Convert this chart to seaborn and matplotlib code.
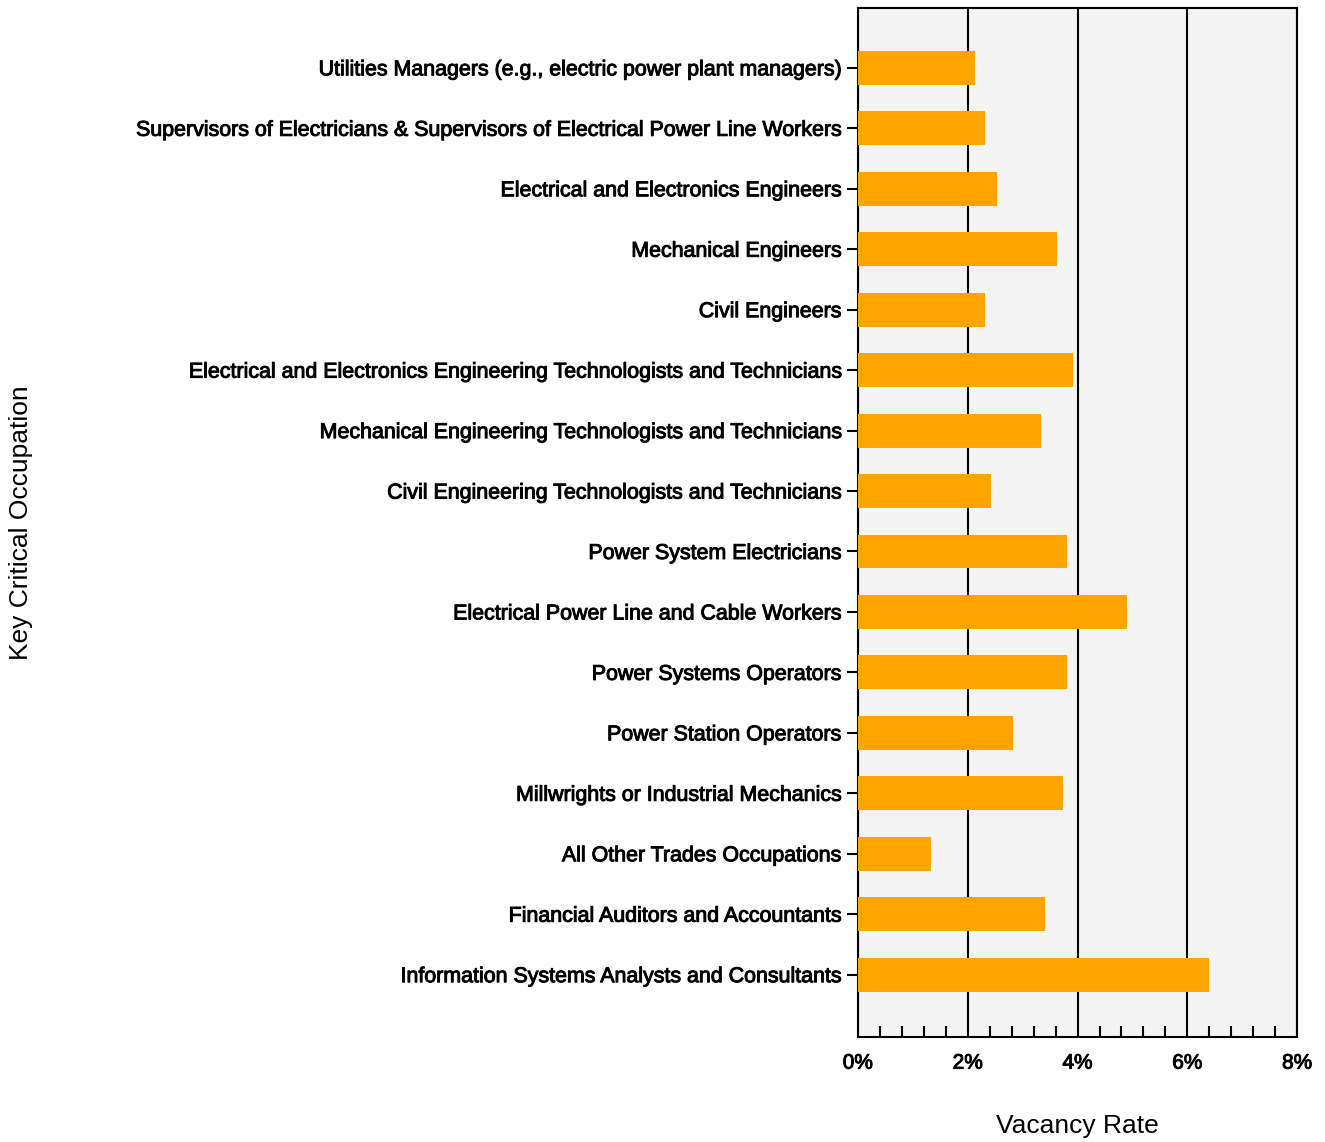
import matplotlib
matplotlib.use("Agg")
import matplotlib.pyplot as plt
import matplotlib.ticker as mticker
import matplotlib.patheffects as pe
import seaborn as sns
import pandas as pd

occupations = [
    "Utilities Managers (e.g., electric power plant managers)",
    "Supervisors of Electricians & Supervisors of Electrical Power Line Workers",
    "Electrical and Electronics Engineers",
    "Mechanical Engineers",
    "Civil Engineers",
    "Electrical and Electronics Engineering Technologists and Technicians",
    "Mechanical Engineering Technologists and Technicians",
    "Civil Engineering Technologists and Technicians",
    "Power System Electricians",
    "Electrical Power Line and Cable Workers",
    "Power Systems Operators",
    "Power Station Operators",
    "Millwrights or Industrial Mechanics",
    "All Other Trades Occupations",
    "Financial Auditors and Accountants",
    "Information Systems Analysts and Consultants",
]
vacancy = [2.13, 2.31, 2.53, 3.62, 2.31, 3.92, 3.33, 2.42,
           3.81, 4.90, 3.81, 2.82, 3.73, 1.33, 3.41, 6.39]

df = pd.DataFrame({"Occupation": occupations, "Vacancy": vacancy})

sns.set_style("white")
plt.rcParams['font.family'] = ['Liberation Sans', 'DejaVu Sans']
plt.rcParams['text.color'] = 'black'
plt.rcParams['axes.labelcolor'] = 'black'
plt.rcParams['xtick.color'] = 'black'
plt.rcParams['ytick.color'] = 'black'

fig = plt.figure(figsize=(13.25, 11.42), dpi=100)
ax = fig.add_axes([0.6475, 0.092, 0.979 - 0.6475, 0.993 - 0.092])
ax.set_facecolor("#f4f4f4")

sns.barplot(data=df, x="Vacancy", y="Occupation", color="#FFA500",
            saturation=1, width=0.56, linewidth=0, ax=ax, zorder=3)

ax.set_xlim(0, 8)
ax.set_ylim(16.03, -0.99)
ax.xaxis.set_major_locator(mticker.MultipleLocator(2))
ax.xaxis.set_minor_locator(mticker.MultipleLocator(0.4))
ax.xaxis.set_major_formatter(mticker.FuncFormatter(lambda v, p: f"{v:.0f}%"))
ax.grid(axis="x", which="major", color="black", linewidth=1.5, zorder=1)
ax.set_axisbelow(True)

for s in ax.spines.values():
    s.set_visible(True)
    s.set_color("black")
    s.set_linewidth(1.5)

ax.tick_params(axis="x", which="major", direction="out", length=7, width=1.5,
               labelsize=15, pad=5)
ax.tick_params(axis="x", which="minor", direction="in", length=8, width=1.5,
               bottom=True)
ax.tick_params(axis="y", direction="out", length=8, width=1.5,
               labelsize=15.4, left=True, pad=4)
thick = [pe.withStroke(linewidth=0.7, foreground="black")]
for lab in ax.get_yticklabels() + ax.get_xticklabels():
    lab.set_path_effects(thick)

ax.set_xlabel("Vacancy Rate", fontsize=19)
ax.set_ylabel("Key Critical Occupation", fontsize=19)
ax.xaxis.set_label_coords(0.5, -(1114 - 1037) / 1029)
ax.yaxis.set_label_coords((34 - 858) / 439, 0.5)

fig.savefig("out.png", dpi=100)
